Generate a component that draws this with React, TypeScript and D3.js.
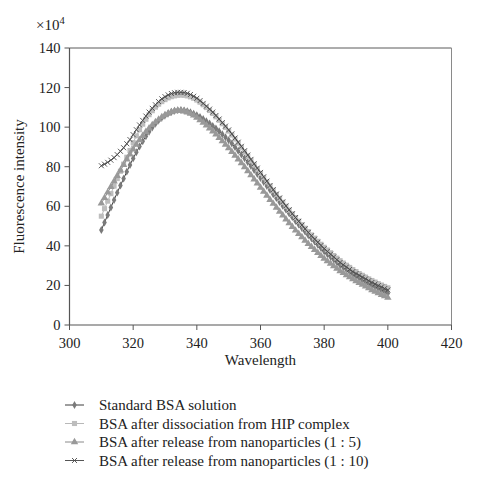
import React from "react";
import * as d3 from "d3";

const wavelengths: number[] = d3.range(310, 401);

const standardBSA: number[] = [
  48, 51.8, 55.6, 59.4, 63.2, 66.9, 70.5, 74, 77.5, 80.9, 84.2, 87.3, 90.2, 92.9, 95.4, 97.7, 99.8, 101.7, 103.4, 104.8, 106, 107, 107.8, 108.3, 108.6, 108.7,
  108.5, 108.1, 107.5, 106.8, 106.0, 105.1, 104.1, 103.0, 101.9, 100.6,
  99.3, 97.9, 96.4, 94.9, 93.4, 91.7, 89.9, 88.1, 86.2, 84.3,
  82.3, 80.3, 78.3, 76.3, 74.3, 72.3, 70.2, 68.2, 66.1, 64.1,
  62.2, 60.2, 58.3, 56.4, 54.5, 52.6, 50.8, 49.0, 47.2, 45.4,
  43.8, 42.2, 40.5, 38.9, 37.3, 35.9, 34.5, 33.1, 31.7, 30.3,
  29.2, 28.0, 26.9, 25.7, 24.6, 23.7, 22.7, 21.8, 20.9, 20.0,
  19.2, 18.4, 17.6, 16.8, 16.0,
];

const hipComplex: number[] = [
  55, 58.8, 62.6, 66.4, 70.2, 74, 77.7, 81.3, 84.8, 88.2, 92.2, 95.6, 98.7, 101.5, 104, 106.3, 108.3, 110.1, 111.6, 112.9, 113.9, 114.8, 115.4, 115.8, 116.1, 116.2,
  116.1, 115.8, 115.3, 114.6, 113.7, 112.6, 111.3, 109.9, 108.4, 106.9,
  105.2, 103.5, 101.7, 99.9, 98.0, 96.0, 94.0, 91.9, 89.8, 87.6,
  85.4, 83.2, 81.0, 78.8, 76.6, 74.4, 72.3, 70.2, 68.1, 66.0,
  64.0, 62.0, 60.0, 58.1, 56.2, 54.3, 52.5, 50.7, 48.9, 47.2,
  45.5, 43.9, 42.3, 40.8, 39.3, 37.9, 36.5, 35.1, 33.8, 32.5,
  31.3, 30.2, 29.1, 28.0, 27.0, 26.0, 25.1, 24.2, 23.3, 22.5,
  21.7, 20.9, 20.2, 19.5, 18.8,
];

const nano1to5: number[] = [
  61.5, 64.2, 67, 69.8, 72.6, 75.4, 78.2, 81, 83.7, 86.3, 88.8, 91.2, 93.5, 95.6, 97.6, 99.4, 101.1, 102.6, 103.9, 105.1, 106.1, 106.9, 107.6, 108.1, 108.3, 108.3,
  108.0, 107.5, 106.8, 105.9, 104.8, 103.6, 102.3, 100.9, 99.4, 97.9,
  96.3, 94.6, 92.9, 91.2, 89.4, 87.5, 85.6, 83.7, 81.8, 79.8,
  77.8, 75.7, 73.6, 71.6, 69.5, 67.4, 65.4, 63.3, 61.3, 59.3,
  57.3, 55.4, 53.4, 51.5, 49.6, 47.8, 46.1, 44.4, 42.7, 41.0,
  39.5, 38.0, 36.5, 35.0, 33.6, 32.3, 31.0, 29.8, 28.5, 27.3,
  26.3, 25.2, 24.2, 23.2, 22.2, 21.3, 20.4, 19.5, 18.6, 17.7,
  16.9, 16.1, 15.3, 14.6, 13.8,
];

const nano1to10: number[] = [
  80.5, 81.3, 82.2, 83.3, 84.6, 86.1, 87.8, 89.6, 91.6, 93.7, 96.2, 98.7, 101.1, 103.4, 105.6, 107.6, 109.5, 111.3, 112.9, 114.3, 115.4, 116.3, 117.0, 117.4, 117.6, 117.6,
  117.5, 117.1, 116.5, 115.6, 114.6, 113.4, 112.0, 110.6, 109.1, 107.6,
  105.9, 104.1, 102.3, 100.5, 98.6, 96.6, 94.5, 92.4, 90.3, 88.1,
  85.9, 83.7, 81.5, 79.3, 77.1, 74.9, 72.7, 70.5, 68.4, 66.2,
  64.2, 62.2, 60.2, 58.2, 56.2, 54.3, 52.4, 50.5, 48.6, 46.8,
  45.1, 43.4, 41.8, 40.2, 38.6, 37.2, 35.8, 34.4, 33.0, 31.6,
  30.4, 29.3, 28.1, 27.0, 26.0, 25.1, 24.2, 23.3, 22.4, 21.5,
  20.7, 19.9, 19.2, 18.4, 17.7,
];

const seriesNames: string[] = [
  "Standard BSA solution",
  "BSA after dissociation from HIP complex",
  "BSA after release from nanoparticles (1 : 5)",
  "BSA after release from nanoparticles (1 : 10)",
];

const xTicks: number[] = [300, 320, 340, 360, 380, 400, 420];
const yTicks: number[] = [0, 20, 40, 60, 80, 100, 120, 140];

type MarkerKind = "diamond" | "square" | "triangle" | "x";

interface SeriesStyle {
  values: number[];
  marker: MarkerKind;
  lineColor: string;
  markerColor: string;
}

const series: SeriesStyle[] = [
  { values: standardBSA, marker: "diamond", lineColor: "#3c3c3c", markerColor: "#7a7a7a" },
  { values: hipComplex, marker: "square", lineColor: "#b8b8b8", markerColor: "#bdbdbd" },
  { values: nano1to5, marker: "triangle", lineColor: "#8a8a8a", markerColor: "#999999" },
  { values: nano1to10, marker: "x", lineColor: "#555555", markerColor: "#4a4a4a" },
];

const FONT = "'Liberation Serif', 'DejaVu Serif', serif";

function Marker({ kind, cx, cy, color }: { kind: MarkerKind; cx: number; cy: number; color: string }) {
  if (kind === "x") {
    const r = 2.5;
    return (
      <path
        d={`M${cx - r},${cy - r}L${cx + r},${cy + r}M${cx - r},${cy + r}L${cx + r},${cy - r}`}
        stroke={color}
        strokeWidth={0.9}
        fill="none"
      />
    );
  }
  const type = kind === "diamond" ? d3.symbolDiamond : kind === "square" ? d3.symbolSquare : d3.symbolTriangle;
  const size = kind === "diamond" ? 18 : kind === "square" ? 26 : 24;
  const p = d3.symbol().type(type).size(size)();
  return <path d={p || ""} transform={`translate(${cx},${cy})`} fill={color} />;
}

export default function App() {
  const W = 478;
  const H = 478;
  const left = 69.5;
  const right = 451.5;
  const top = 48;
  const bottom = 325;

  const x = d3.scaleLinear().domain([300, 420]).range([left, right]);
  const y = d3.scaleLinear().domain([0, 140]).range([bottom, top]);

  const line = d3
    .line<number>()
    .x((_, i) => x(wavelengths[i]))
    .y((d) => y(d));

  const legendY = [405, 423.5, 442, 460.5];

  return (
    <svg
      width={W}
      height={H}
      style={{ position: "absolute", left: 0, top: 0, background: "#fff" }}
      fontFamily={FONT}
    >
      <rect x={0} y={0} width={W} height={H} fill="#fff" />
      <line x1={left} x2={right} y1={top} y2={top} stroke="#5a5a5a" strokeWidth={1} />
      <line x1={right} x2={right} y1={top} y2={bottom} stroke="#8a8a8a" strokeWidth={1} />
      <line x1={left} x2={left} y1={top} y2={bottom} stroke="#555" strokeWidth={1.2} />
      <line x1={left} x2={right} y1={bottom} y2={bottom} stroke="#555" strokeWidth={1.2} />

      {yTicks.map((t) => (
        <g key={"y" + t}>
          <line x1={left - 5} x2={left} y1={y(t)} y2={y(t)} stroke="#555" strokeWidth={1} />
          <text x={left - 9} y={y(t) + 5} textAnchor="end" fontSize={14.5} fill="#222">
            {t}
          </text>
        </g>
      ))}
      {xTicks.map((t) => (
        <g key={"x" + t}>
          <line x1={x(t)} x2={x(t)} y1={bottom} y2={bottom + 5} stroke="#555" strokeWidth={1} />
          <text x={x(t)} y={bottom + 23} textAnchor="middle" fontSize={14.5} fill="#222">
            {t}
          </text>
        </g>
      ))}

      <text x={36} y={30} fontSize={15} fill="#222">
        ×10
        <tspan dy={-6} fontSize={10.5}>
          4
        </tspan>
      </text>

      <text
        transform={`translate(24,${(top + bottom) / 2}) rotate(-90)`}
        textAnchor="middle"
        fontSize={15}
        fill="#222"
      >
        Fluorescence intensity
      </text>
      <text x={(left + right) / 2} y={365} textAnchor="middle" fontSize={15} fill="#222">
        Wavelength
      </text>

      {series.map((s, si) => (
        <g key={"s" + si}>
          <path d={line(s.values) || ""} fill="none" stroke={s.lineColor} strokeWidth={1} />
          {s.values.map((v, i) => (
            <Marker key={i} kind={s.marker} cx={x(wavelengths[i])} cy={y(v)} color={s.markerColor} />
          ))}
        </g>
      ))}

      {series.map((s, si) => (
        <g key={"l" + si}>
          <line x1={65} x2={84} y1={legendY[si]} y2={legendY[si]} stroke={s.lineColor} strokeWidth={1} />
          <Marker kind={s.marker} cx={74.5} cy={legendY[si]} color={s.markerColor} />
          <text x={99} y={legendY[si] + 5} fontSize={15} fill="#222">
            {seriesNames[si]}
          </text>
        </g>
      ))}
    </svg>
  );
}
